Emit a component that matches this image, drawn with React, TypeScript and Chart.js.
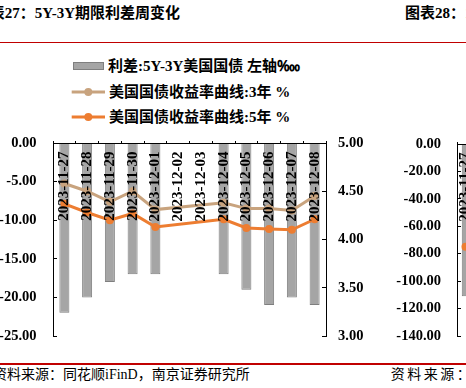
import React, { useEffect, useRef } from 'react';
import { Chart, registerables } from 'chart.js';

Chart.register(...registerables);

// ---------- data (图表27) ----------
const categories = [
  '2023-11-27', '2023-11-28', '2023-11-29', '2023-11-30', '2023-12-01', '2023-12-02',
  '2023-12-03', '2023-12-04', '2023-12-05', '2023-12-06', '2023-12-07', '2023-12-08',
];
const spreadBp = [-22, -20, -18, -17, -17, null, null, -17, -19, -21, -20, -21];
const yield3Y = [4.58, 4.5, 4.39, 4.5, 4.31, null, null, 4.38, 4.32, 4.32, 4.3, 4.45];
const yield5Y = [4.37, 4.28, 4.2, 4.27, 4.13, null, null, 4.21, 4.12, 4.11, 4.1, 4.21];
const seriesNames = ['利差:5Y-3Y美国国债 左轴‱', '美国国债收益率曲线:3年 %', '美国国债收益率曲线:5年 %'];
const leftAxisRange = [-25, 0, 5];
const rightAxisRange = [3, 5, 0.5];

// ---------- data (图表28, only its left edge is visible) ----------
const chart28Categories = ['2023-11-27'];
const chart28Bars = [-111];
const chart28Line = [-75];
const chart28AxisRange = [-140, 0, 20];

const titleLeft = '图表27：5Y-3Y期限利差周变化';
const titleRight = '图表28：1';
const sourceLeft = '资料来源：同花顺iFinD，南京证券研究所';
const sourceRight = '资料来源：';

const GRAY = '#A5A5A5';
const GRAY_BORDER = '#7F7F7F';
const TAN = '#C8A37E';
const ORANGE = '#ED7D31';
const RED = '#C00000';

const SERIF = "'Liberation Serif', 'Times New Roman', serif";
const MIXED = "'Liberation Serif', 'Noto Sans CJK SC', serif";
const axisFont = { family: SERIF, size: 14.5, weight: 'bold' as const };
const catFont = { family: SERIF, size: 15, weight: 'bold' as const };

function xAxis() {
  return {
    type: 'category' as const,
    position: { y: 0 },
    offset: true,
    grid: { offset: true, drawOnChartArea: false, tickLength: -3, tickColor: '#000', tickWidth: 1 },
    border: { color: '#000', width: 1, z: 1 },
    ticks: { autoSkip: false, minRotation: 90, maxRotation: 90, padding: 11.5, color: '#000', font: catFont, z: 1 },
    afterFit: (s: any) => { s.height = 0; s.paddingLeft = 0; s.paddingRight = 0; },
  };
}

function yAxis(pos: 'left' | 'right', range: number[], pad: number, width: number) {
  return {
    position: pos, min: range[0], max: range[1],
    grid: { drawOnChartArea: false, tickLength: -4, tickColor: '#000' },
    border: { color: '#000', width: 1 },
    ticks: {
      stepSize: range[2], padding: pad, color: '#000', font: axisFont,
      callback: (v: any) => Number(v).toFixed(2),
    },
    afterFit: (s: any) => { s.width = width; s.paddingTop = 0; s.paddingBottom = 0; },
  };
}

function MainChart() {
  const ref = useRef<HTMLCanvasElement | null>(null);
  useEffect(() => {
    if (!ref.current) return;
    const chart = new Chart(ref.current, {
      type: 'bar',
      data: {
        labels: categories,
        datasets: [
          {
            type: 'bar', label: seriesNames[0], data: spreadBp, yAxisID: 'y',
            backgroundColor: GRAY, borderColor: GRAY_BORDER, borderWidth: 1,
            barPercentage: 0.44, categoryPercentage: 1, order: 3,
          } as any,
          {
            type: 'line', label: seriesNames[1], data: yield3Y, yAxisID: 'y1',
            borderColor: TAN, backgroundColor: TAN, borderWidth: 3, pointRadius: 4,
            pointBorderWidth: 0, pointBackgroundColor: TAN, spanGaps: true, order: 2,
          } as any,
          {
            type: 'line', label: seriesNames[2], data: yield5Y, yAxisID: 'y1',
            borderColor: ORANGE, backgroundColor: ORANGE, borderWidth: 3, pointRadius: 4,
            pointBorderWidth: 0, pointBackgroundColor: ORANGE, spanGaps: true, order: 1,
          } as any,
        ],
      },
      options: {
        animation: false,
        responsive: false,
        maintainAspectRatio: false,
        layout: { padding: { top: 15, bottom: 14, left: 0, right: 0 } },
        plugins: { legend: { display: false }, tooltip: { enabled: false } },
        scales: {
          x: xAxis() as any,
          y: yAxis('left', leftAxisRange, 20.5, 53) as any,
          y1: yAxis('right', rightAxisRange, 16, 54) as any,
        },
      } as any,
    });
    return () => chart.destroy();
  }, []);
  return <canvas ref={ref} width={380} height={222} style={{ position: 'absolute', left: 0, top: 128 }} />;
}

function SecondChart() {
  const ref = useRef<HTMLCanvasElement | null>(null);
  useEffect(() => {
    if (!ref.current) return;
    const chart = new Chart(ref.current, {
      type: 'bar',
      data: {
        labels: chart28Categories,
        datasets: [
          {
            type: 'bar', data: chart28Bars, yAxisID: 'y', backgroundColor: GRAY,
            borderColor: GRAY_BORDER, borderWidth: 1, barPercentage: 0.44, categoryPercentage: 1, order: 2,
          } as any,
          {
            type: 'line', data: chart28Line, yAxisID: 'y', borderColor: ORANGE,
            backgroundColor: ORANGE, borderWidth: 3, pointRadius: 4, pointBorderWidth: 0, order: 1,
          } as any,
        ],
      },
      options: {
        animation: false,
        responsive: false,
        maintainAspectRatio: false,
        layout: { padding: { top: 16, bottom: 14, left: 0, right: 0 } },
        plugins: { legend: { display: false }, tooltip: { enabled: false } },
        scales: {
          x: xAxis() as any,
          y: yAxis('left', chart28AxisRange, 20, 78) as any,
        },
      } as any,
    });
    return () => chart.destroy();
  }, []);
  return <canvas ref={ref} width={99} height={222} style={{ position: 'absolute', left: 379, top: 128 }} />;
}

const legendText: React.CSSProperties = {
  position: 'absolute', fontFamily: MIXED, fontWeight: 'bold', fontSize: 15,
  lineHeight: '18px', whiteSpace: 'nowrap', color: '#000',
};

function Legend() {
  return (
    <>
      <div style={{
        position: 'absolute', left: 73, top: 61.5, width: 31, height: 8, background: GRAY,
        border: `1px solid ${GRAY_BORDER}`, boxSizing: 'border-box',
      }} />
      <span style={{ ...legendText, left: 108, top: 65.7 - 9 }}>{seriesNames[0]}</span>
      {[{ c: TAN, y: 91.7 }, { c: ORANGE, y: 117.3 }].map((it, i) => (
        <svg key={i} width={36} height={12} style={{ position: 'absolute', left: 71, top: it.y - 6 }}>
          <line x1={0.7} y1={6} x2={34} y2={6} stroke={it.c} strokeWidth={3} />
          <circle cx={17.3} cy={6} r={4} fill={it.c} />
        </svg>
      ))}
      <span style={{ ...legendText, left: 109, top: 91.7 - 9 }}>{seriesNames[1]}</span>
      <span style={{ ...legendText, left: 109, top: 117.3 - 9 }}>{seriesNames[2]}</span>
    </>
  );
}

export default function App() {
  const titleStyle: React.CSSProperties = {
    position: 'absolute', fontFamily: MIXED, fontWeight: 'bold', fontSize: 15,
    lineHeight: '16px', whiteSpace: 'nowrap', color: '#000', top: 5,
  };
  const srcStyle: React.CSSProperties = {
    position: 'absolute', fontFamily: "'Liberation Serif', 'Noto Sans CJK SC', serif", fontSize: 14,
    lineHeight: '16px', whiteSpace: 'nowrap', color: '#000', top: 367,
  };
  return (
    <div style={{
      position: 'fixed', left: 0, top: 0, width: 466, height: 388, overflow: 'hidden', background: '#fff',
    }}>
      <span style={{ ...titleStyle, left: -25.3 }}>{titleLeft}</span>
      <span style={{ ...titleStyle, left: 405 }}>{titleRight}</span>
      <div style={{ position: 'absolute', left: 0, top: 41.5, width: 466, height: 1.5, background: RED }} />
      <Legend />
      <MainChart />
      <SecondChart />
      <div style={{ position: 'absolute', left: 0, top: 363, width: 466, height: 1.5, background: RED }} />
      <span style={{ ...srcStyle, left: -7 }}>{sourceLeft}</span>
      <span style={{ ...srcStyle, left: 390.7, letterSpacing: 2.5 }}>{sourceRight}</span>
    </div>
  );
}
